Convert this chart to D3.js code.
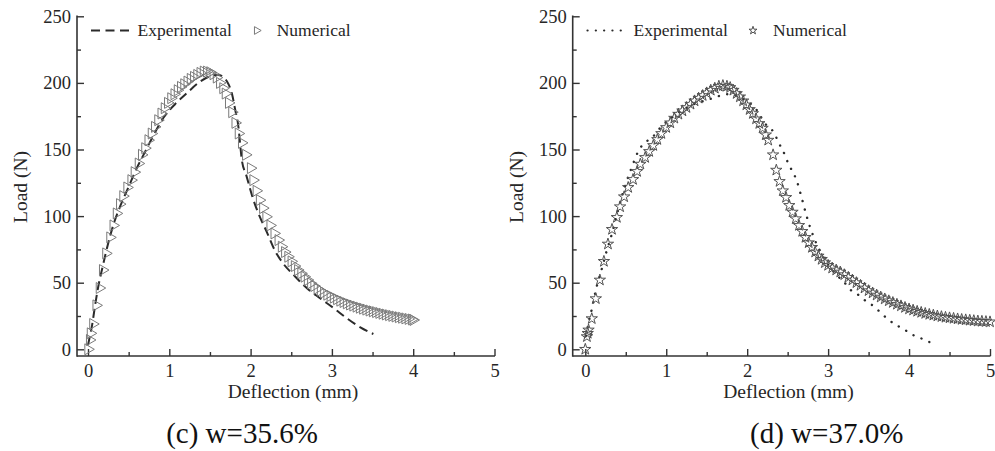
<!DOCTYPE html>
<html>
<head>
<meta charset="utf-8">
<script src="https://cdn.jsdelivr.net/npm/d3@7"></script>
<style>
  html, body { margin: 0; padding: 0; background: #fff; }
  svg { display: block; }
</style>
</head>
<body>
<svg id="chart" width="995" height="451"></svg>
<script>
// ---------------- DATA ----------------
const xTicks = [0, 1, 2, 3, 4, 5];
const xMinorTicks = [0.5, 1.5, 2.5, 3.5, 4.5];
const yTicks = [0, 50, 100, 150, 200, 250];
const yMinorTicks = [25, 75, 125, 175, 225];
const xTitle = "Deflection (mm)";
const yTitle = "Load (N)";
const seriesNames = ["Experimental", "Numerical"];
const captions = ["(c) w=35.6%", "(d) w=37.0%"];

// Panel (c): experimental (dashed line)
const expC = [
  [0.00,3],[0.02,9],[0.05,18],[0.08,30],[0.12,45],[0.18,62],[0.25,80],[0.31,93],
  [0.40,108],[0.50,122],[0.60,136],[0.70,148],[0.80,160],[0.93,174],[1.07,184],
  [1.21,192],[1.38,201],[1.50,205],[1.60,206],[1.67,204],[1.71,201],[1.77,192],
  [1.81,180],[1.85,167],[1.87,155],[1.89,143],[1.95,130],[2.03,113],[2.11,100],
  [2.20,88],[2.30,74],[2.40,64.5],[2.55,54.5],[2.69,46],[2.85,38.5],[3.02,31],
  [3.18,23.5],[3.35,16.5],[3.51,11.5]
];
// Panel (c): numerical (triangles)
const numC = [
  [0,0],[0.02,7],[0.03,12],[0.06,19],[0.10,33],[0.14,46],[0.18,59.5],[0.22,72],
  [0.27,84],[0.31,93],[0.35,102],[0.39,109],[0.43,115],[0.48,121.5],[0.53,127],
  [0.57,133],[0.62,139.5],[0.66,146],[0.70,151],[0.74,157],[0.78,162],[0.82,167],
  [0.86,172],[0.90,177],[0.94,181],[0.98,185],[1.02,188.5],[1.06,191.5],[1.10,194.5],
  [1.14,197],[1.18,199],[1.22,201],[1.26,203],[1.30,204.5],[1.34,206],[1.38,207.5],
  [1.42,208.5],[1.46,208.5],[1.50,208],[1.54,206.5],[1.58,204],[1.62,200],[1.66,196],
  [1.69,192],[1.73,185],[1.77,178],[1.81,170],[1.85,162],[1.89,155],[1.94,146],
  [2.00,136],[2.03,127],[2.07,119],[2.11,112],[2.15,106],[2.19,99.5],[2.24,93],
  [2.29,87],[2.34,82],[2.38,77],[2.42,73],[2.46,69.5],[2.50,66],[2.54,62.5],
  [2.58,59.5],[2.62,57],[2.66,54.5],[2.70,52],[2.74,49.5],[2.78,47.5],[2.82,45.5],
  [2.86,44],[2.90,42.5],[2.94,41],[2.98,40],[3.02,38.8],[3.06,37.6],[3.10,36.5],
  [3.14,35.5],[3.18,34.5],[3.22,33.6],[3.26,32.8],[3.30,32],[3.34,31.2],[3.38,30.5],
  [3.42,29.8],[3.46,29.1],[3.50,28.5],[3.54,27.9],[3.58,27.3],[3.62,26.7],[3.66,26.1],
  [3.70,25.6],[3.74,25.1],[3.78,24.6],[3.82,24.1],[3.86,23.7],[3.90,23.2],[3.94,22.8],
  [3.98,22.4],[4.00,22]
];
// Panel (d): experimental (dotted)
const expD = [
  [0.01,10],[0.04,20],[0.08,30],[0.13,44.5],[0.20,59.5],[0.26,73],[0.33,87],[0.39,101],
  [0.45,114.5],[0.51,126],[0.57,136],[0.65,148],[0.72,154.5],[0.82,158.5],[0.90,164.5],
  [0.98,169.5],[1.07,174],[1.17,178.5],[1.27,182],[1.38,185],[1.50,187],[1.62,189.5],
  [1.74,191.5],[1.86,190.5],[1.96,187.5],[2.05,184],[2.12,179.5],[2.22,169.5],[2.28,166],
  [2.34,162],[2.38,156],[2.44,149.5],[2.49,142],[2.55,134.5],[2.61,127],[2.67,114.5],
  [2.73,101],[2.77,93],[2.83,83],[2.89,75],[2.95,68],[3.02,62],[3.10,56],[3.19,51],
  [3.27,45],[3.37,41],[3.46,36.5],[3.56,32.5],[3.65,27.5],[3.74,22.5],[3.85,18],
  [3.95,14.5],[4.05,10.7],[4.15,8.2],[4.26,5.2]
];
// Panel (d): numerical (stars)
const numD = [
  [0,0],[0.02,9.5],[0.03,12],[0.04,14.5],[0.08,23],[0.13,38],[0.18,52],[0.23,66],
  [0.28,79],[0.33,90],[0.39,99],[0.43,107],[0.48,114.5],[0.53,121.5],[0.59,127.5],
  [0.64,133.5],[0.68,139],[0.74,144],[0.79,148.5],[0.84,153],[0.89,157.5],[0.94,162],
  [1.00,166.5],[1.05,170],[1.10,173.5],[1.15,176.5],[1.20,179],[1.25,181.5],[1.30,184],
  [1.35,186.5],[1.40,188.5],[1.45,190.5],[1.50,192.5],[1.55,194.5],[1.60,196],
  [1.65,197.5],[1.70,198],[1.75,197.5],[1.79,196.5],[1.83,194.5],[1.87,192],[1.91,189.5],
  [1.95,186.5],[1.99,183.5],[2.03,180],[2.07,177],[2.11,173],[2.15,169.5],[2.19,166],
  [2.23,161],[2.26,157],[2.32,146],[2.36,134.5],[2.40,126],[2.44,119],[2.48,114],
  [2.52,108],[2.56,103],[2.60,98],[2.64,93],[2.68,88.5],[2.72,84],[2.76,80],[2.80,76.5],
  [2.84,73],[2.88,70],[2.92,67.5],[2.96,65],[3.00,63],[3.05,61],[3.10,59.5],[3.15,58],
  [3.20,56],[3.25,54],[3.30,52],[3.35,50],[3.40,48],[3.45,46],[3.50,44],[3.55,42.3],
  [3.60,40.7],[3.65,39.2],[3.70,37.8],[3.75,36.4],[3.80,35.1],[3.85,33.8],[3.90,32.6],
  [3.95,31.4],[4.00,30.3],[4.05,29.4],[4.10,28.5],[4.15,27.7],[4.20,26.9],[4.25,26.2],
  [4.30,25.6],[4.35,25],[4.40,24.5],[4.45,24],[4.50,23.6],[4.55,23.2],[4.60,22.8],
  [4.65,22.4],[4.70,22.1],[4.75,21.8],[4.80,21.5],[4.85,21.2],[4.90,21],[4.95,20.8],
  [5.00,20.6]
];

// ---------------- DRAW ----------------
const svg = d3.select("#chart");
const FONT = "'Liberation Serif', 'Times New Roman', serif";
const AXIS_COLOR = "#333";
const TEXT_COLOR = "#262626";

const panels = [
  { exp: expC, num: numC, caption: captions[0], axisX: 77, x0: 88, x5: 494.5,
    expStyle: "dash", marker: "triangle", captionX: 242, titleX: 293, yTitleX: 20.5,
    legend: { lineX0: 91, lineX1: 133, textX: 137.5, markX: 256.7, numX: 276.7 } },
  { exp: expD, num: numD, caption: captions[1], axisX: 572.7, x0: 585.3, x5: 990,
    expStyle: "dot", marker: "star", captionX: 826.7, titleX: 788.5, yTitleX: 516,
    legend: { lineX0: 587, lineX1: 628.5, textX: 633.5, markX: 753, numX: 773 } }
];

const axisY = 356, yTop = 16;

panels.forEach(p => {
  const x = d3.scaleLinear().domain([0, 5]).range([p.x0, p.x5]);
  const y = d3.scaleLinear().domain([0, 250]).range([349.3, 16.3]);
  const g = svg.append("g");

  // Axis lines
  g.append("line").attr("x1", p.axisX).attr("x2", p.x5 + 0.5)
    .attr("y1", axisY).attr("y2", axisY)
    .attr("stroke", AXIS_COLOR).attr("stroke-width", 1.6);
  g.append("line").attr("x1", p.axisX).attr("x2", p.axisX)
    .attr("y1", yTop - 0.5).attr("y2", axisY + 0.8)
    .attr("stroke", AXIS_COLOR).attr("stroke-width", 1.6);

  const xa = g.append("g").attr("transform", `translate(0,${axisY})`)
    .call(d3.axisBottom(x).tickValues(xTicks).tickSize(-7).tickPadding(8).tickFormat(d3.format("d")));
  const xm = g.append("g").attr("transform", `translate(0,${axisY})`)
    .call(d3.axisBottom(x).tickValues(xMinorTicks).tickSize(-4).tickFormat(""));
  const ya = g.append("g").attr("transform", `translate(${p.axisX},0)`)
    .call(d3.axisLeft(y).tickValues(yTicks).tickSize(-7).tickPadding(6).tickFormat(d3.format("d")));
  const ym = g.append("g").attr("transform", `translate(${p.axisX},0)`)
    .call(d3.axisLeft(y).tickValues(yMinorTicks).tickSize(-4).tickFormat(""));

  [xa, xm, ya, ym].forEach(a => {
    a.select(".domain").remove();
    a.selectAll(".tick line").attr("stroke", AXIS_COLOR).attr("stroke-width", 1.4);
    a.selectAll("text").attr("font-family", FONT).attr("font-size", 18.5).attr("fill", TEXT_COLOR);
  });

  // Axis titles
  g.append("text").attr("x", p.titleX).attr("y", 397.5)
    .attr("text-anchor", "middle").attr("font-family", FONT).attr("font-size", 19.5)
    .attr("fill", TEXT_COLOR).text(xTitle);
  g.append("text").attr("transform", `translate(${p.yTitleX},187) rotate(-90)`)
    .attr("text-anchor", "middle").attr("dominant-baseline", "central")
    .attr("font-family", FONT).attr("font-size", 19.5).attr("fill", TEXT_COLOR).text(yTitle);

  // Caption
  g.append("text").attr("x", p.captionX).attr("y", 443)
    .attr("text-anchor", "middle").attr("font-family", FONT).attr("font-size", 29)
    .attr("fill", "#111").text(p.caption);

  // Experimental line
  const line = d3.line().x(d => x(d[0])).y(d => y(d[1])).curve(d3.curveMonotoneX);
  const expPath = g.append("path").datum(p.exp).attr("d", line)
    .attr("fill", "none").attr("stroke", "#2b2b2b");
  if (p.expStyle === "dash") {
    expPath.attr("stroke-width", 2).attr("stroke-dasharray", "9,5");
  } else {
    expPath.attr("stroke-width", 2.4).attr("stroke-dasharray", "0.1,8.5").attr("stroke-linecap", "round");
  }

  // Numerical markers
  const sym = p.marker === "triangle"
    ? d3.symbol(d3.symbolTriangle).size(52)
    : d3.symbol(d3.symbolStar).size(40);
  const rot = p.marker === "triangle" ? 90 : 0;
  const mcol = p.marker === "triangle" ? "#7a7a7a" : "#505050";
  g.append("g").selectAll("path").data(p.num).join("path")
    .attr("d", sym)
    .attr("transform", d => `translate(${x(d[0])},${y(d[1])}) rotate(${rot})`)
    .attr("fill", "none").attr("stroke", mcol).attr("stroke-width", 1);

  // Legend
  const L = p.legend, ly = 30.5;
  const lg = g.append("g");
  const ll = lg.append("line").attr("x1", L.lineX0).attr("x2", L.lineX1)
    .attr("y1", ly).attr("y2", ly).attr("stroke", "#2b2b2b");
  if (p.expStyle === "dash") {
    ll.attr("stroke-width", 2).attr("stroke-dasharray", "9,5.5");
  } else {
    ll.attr("x1", L.lineX0 + 0.5).attr("stroke-width", 2.2).attr("stroke-dasharray", "0.1,8.2").attr("stroke-linecap", "round");
  }
  lg.append("text").attr("x", L.textX).attr("y", ly + 5.8)
    .attr("font-family", FONT).attr("font-size", 17.5).attr("fill", TEXT_COLOR).text(seriesNames[0]);
  const lsym = p.marker === "triangle"
    ? d3.symbol(d3.symbolTriangle).size(26)
    : d3.symbol(d3.symbolStar).size(20);
  lg.append("path").attr("d", lsym)
    .attr("transform", `translate(${L.markX},${ly}) rotate(${rot})`)
    .attr("fill", "none").attr("stroke", mcol).attr("stroke-width", 1);
  lg.append("text").attr("x", L.numX).attr("y", ly + 5.8)
    .attr("font-family", FONT).attr("font-size", 17.5).attr("fill", TEXT_COLOR).text(seriesNames[1]);
});
</script>
</body>
</html>
